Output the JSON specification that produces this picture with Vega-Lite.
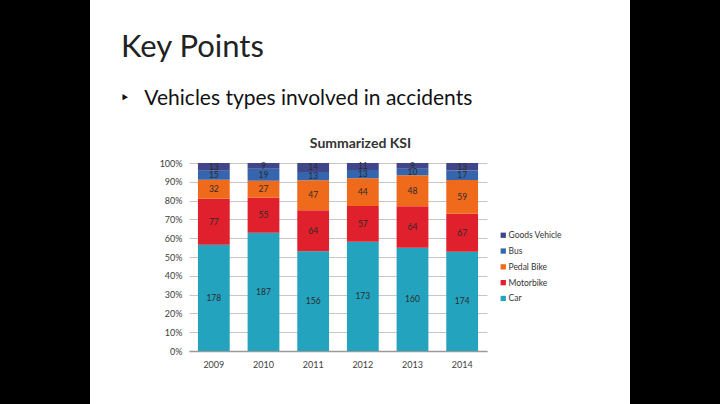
{
  "$schema": "https://vega.github.io/schema/vega-lite/v6.json",
  "width": 540,
  "height": 404,
  "autosize": {"type": "none"},
  "padding": {"left": 90, "right": 90, "top": 0, "bottom": 0},
  "background": "black",
  "view": {"fill": "white", "stroke": null},
  "title": {
    "text": "Key Points",
    "subtitle": "\u00a0\u00a0‣\u00a0\u00a0\u00a0Vehicles types involved in accidents",
    "anchor": "start",
    "frame": "group",
    "orient": "top",
    "dx": 31,
    "offset": -110,
    "font": "Lato",
    "fontSize": 31,
    "fontWeight": "normal",
    "color": "#222222",
    "subtitleFont": "Lato",
    "subtitleFontSize": 21,
    "subtitleColor": "#111111",
    "subtitlePadding": 24
  },
  "data": {
    "values": [
      {"year": "2009", "type": "Car", "count": 178},
      {"year": "2009", "type": "Motorbike", "count": 77},
      {"year": "2009", "type": "Pedal Bike", "count": 32},
      {"year": "2009", "type": "Bus", "count": 15},
      {"year": "2009", "type": "Goods Vehicle", "count": 13},
      {"year": "2010", "type": "Car", "count": 187},
      {"year": "2010", "type": "Motorbike", "count": 55},
      {"year": "2010", "type": "Pedal Bike", "count": 27},
      {"year": "2010", "type": "Bus", "count": 19},
      {"year": "2010", "type": "Goods Vehicle", "count": 9},
      {"year": "2011", "type": "Car", "count": 156},
      {"year": "2011", "type": "Motorbike", "count": 64},
      {"year": "2011", "type": "Pedal Bike", "count": 47},
      {"year": "2011", "type": "Bus", "count": 13},
      {"year": "2011", "type": "Goods Vehicle", "count": 14},
      {"year": "2012", "type": "Car", "count": 173},
      {"year": "2012", "type": "Motorbike", "count": 57},
      {"year": "2012", "type": "Pedal Bike", "count": 44},
      {"year": "2012", "type": "Bus", "count": 13},
      {"year": "2012", "type": "Goods Vehicle", "count": 11},
      {"year": "2013", "type": "Car", "count": 160},
      {"year": "2013", "type": "Motorbike", "count": 64},
      {"year": "2013", "type": "Pedal Bike", "count": 48},
      {"year": "2013", "type": "Bus", "count": 10},
      {"year": "2013", "type": "Goods Vehicle", "count": 9},
      {"year": "2014", "type": "Car", "count": 174},
      {"year": "2014", "type": "Motorbike", "count": 67},
      {"year": "2014", "type": "Pedal Bike", "count": 59},
      {"year": "2014", "type": "Bus", "count": 17},
      {"year": "2014", "type": "Goods Vehicle", "count": 13}
    ]
  },
  "transform": [
    {"calculate": "indexof(['Car','Motorbike','Pedal Bike','Bus','Goods Vehicle'], datum.type)", "as": "rank"},
    {"stack": "count", "groupby": ["year"], "sort": [{"field": "rank", "order": "ascending"}], "offset": "normalize", "as": ["y0", "y1"]},
    {"calculate": "(datum.y0 + datum.y1) / 2", "as": "mid"}
  ],
  "layer": [
    {
      "mark": {"type": "bar"},
      "encoding": {
        "x": {
          "field": "year",
          "type": "ordinal",
          "scale": {"range": [99, 397], "paddingInner": 0.36, "paddingOuter": 0.18},
          "axis": {
            "orient": "bottom",
            "offset": -53,
            "title": null,
            "labelAngle": 0,
            "labelFont": "Lato",
            "labelFontSize": 9,
            "labelColor": "#404040",
            "labelPadding": 9,
            "ticks": false,
            "grid": false,
            "domainColor": "#9a9a9a",
            "domainWidth": 1.5
          }
        },
        "y": {
          "field": "y0",
          "type": "quantitative",
          "scale": {"domain": [0, 1], "range": [351, 163], "nice": false, "zero": false},
          "axis": {
            "offset": -99,
            "title": null,
            "values": [0, 0.1, 0.2, 0.3, 0.4, 0.5, 0.6, 0.7, 0.8, 0.9, 1],
            "format": ".0%",
            "labelFont": "Lato",
            "labelFontSize": 9,
            "labelColor": "#404040",
            "labelPadding": 7,
            "ticks": false,
            "domain": false,
            "grid": true,
            "gridColor": "#c6c6c6",
            "gridWidth": 1
          }
        },
        "y2": {"field": "y1"},
        "color": {
          "field": "type",
          "type": "nominal",
          "scale": {
            "domain": ["Goods Vehicle", "Bus", "Pedal Bike", "Motorbike", "Car"],
            "range": ["#41468a", "#3565ad", "#f06a1c", "#e0202c", "#24a3be"]
          },
          "legend": {
            "title": null,
            "orient": "none",
            "legendX": 409,
            "legendY": 231,
            "padding": 0,
            "symbolType": "square",
            "symbolSize": 28,
            "symbolStrokeWidth": 0,
            "labelFont": "Lato",
            "labelFontSize": 8.5,
            "labelColor": "#333333",
            "labelOffset": 1,
            "rowPadding": 6.8
          }
        }
      }
    },
    {
      "mark": {"type": "text", "font": "Lato", "fontSize": 8.5, "color": "#2a2a2a", "baseline": "middle", "align": "center"},
      "encoding": {
        "x": {
          "field": "year",
          "type": "ordinal",
          "axis": {
            "orient": "top",
            "offset": -163,
            "minExtent": 0,
            "labels": false,
            "ticks": false,
            "domain": false,
            "grid": false,
            "title": "Summarized KSI",
            "titleFont": "Lato",
            "titleFontSize": 14,
            "titleFontWeight": "bold",
            "titleColor": "#333333",
            "titlePadding": 13,
            "titleX": 270,
            "titleAlign": "center"
          }
        },
        "y": {
          "field": "mid",
          "type": "quantitative",
          "axis": {
            "offset": -99,
            "title": null,
            "values": [0, 0.1, 0.2, 0.3, 0.4, 0.5, 0.6, 0.7, 0.8, 0.9, 1],
            "format": ".0%",
            "labelFont": "Lato",
            "labelFontSize": 9,
            "labelColor": "#404040",
            "labelPadding": 7,
            "ticks": false,
            "domain": false,
            "grid": true,
            "gridColor": "#c6c6c6",
            "gridWidth": 1
          }
        },
        "text": {"field": "count", "type": "quantitative"}
      }
    }
  ],
  "resolve": {"axis": {"x": "independent"}}
}
